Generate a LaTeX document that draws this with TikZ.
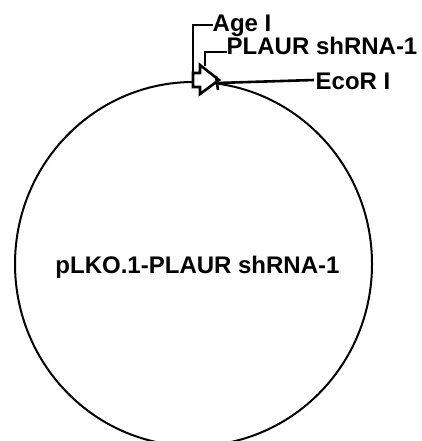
\documentclass[tikz,border=0pt]{standalone}
\usepackage{fontspec}
\setmainfont{Liberation Sans}[BoldFont={Liberation Sans Bold}]
\newfontfamily\lblfont{Liberation Sans Bold}
\usetikzlibrary{shapes.geometric}
\begin{document}
\begin{tikzpicture}[x=1pt,y=-1pt,
  lbl/.style={inner sep=0pt,font=\lblfont\fontsize{24}{24}\selectfont},
  leader/.style={line width=2.6pt},
  backbone/.style={line width=2pt}]
\useasboundingbox (0,0) rectangle (421,441);
\clip (0,0) rectangle (421,441);
% plasmid backbone
\node[draw,backbone,ellipse,minimum width=357pt,minimum height=364pt,inner sep=0pt] (plasmid) at (193.5,264) {};
% insert (PLAUR shRNA-1) arrow
\draw[leader,fill=white,line join=miter] (193,73) -- (200,73) -- (200,65) -- (219,80) -- (200,94) -- (200,87) -- (193,87) -- cycle;
\coordinate (ageSite) at (193,87);
\coordinate (insTop) at (205,66);
\coordinate (ecoSite) at (217,83);
% EcoR I tick
\coordinate (tickA) at (216,76);
\coordinate (tickB) at (218,90);
\draw[leader] (tickA) -- (tickB);
% labels
\node[lbl,anchor=base west] (age) at (212.5,32) {Age I};
\node[lbl,anchor=base west] (plaur) at (226.5,55) {PLAUR shRNA-1};
\node[lbl,anchor=base west] (eco) at (315.5,90) {EcoR I};
\node[lbl,anchor=base] (name) at (197.5,273) {pLKO.1-PLAUR shRNA-1};
% leaders
\coordinate (ageL) at (212.5,25);
\coordinate (plaurL) at (226.5,52);
\coordinate (ecoL) at (314,80);
\draw[leader] (ageL) -| (ageSite);
\draw[leader] (plaurL) -| (insTop);
\draw[leader] (ecoL) -- (ecoSite);
\end{tikzpicture}
\end{document}
